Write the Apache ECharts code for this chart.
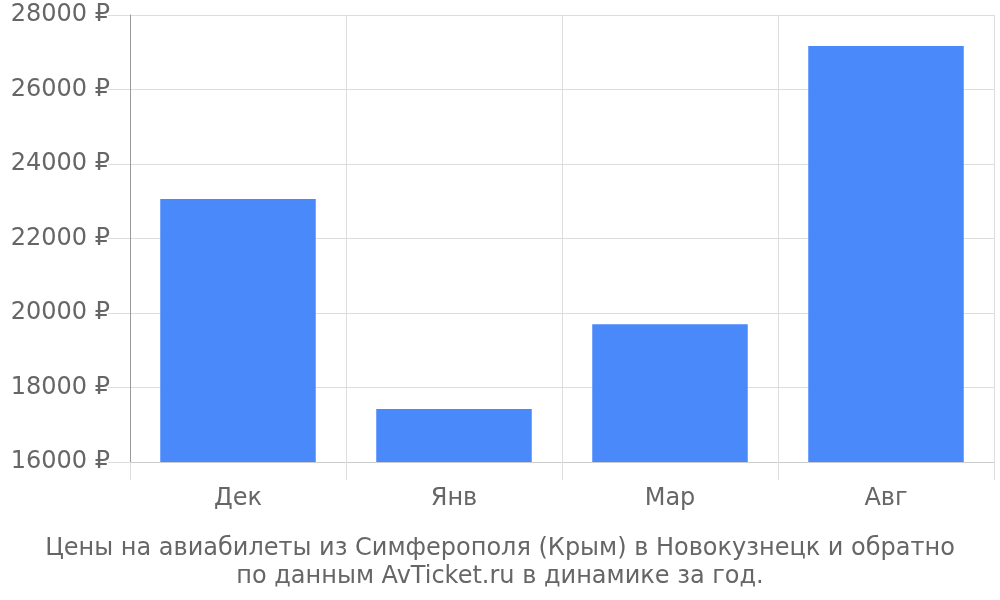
<!DOCTYPE html>
<html><head><meta charset="utf-8">
<script src="https://cdn.jsdelivr.net/npm/echarts@6/dist/echarts.min.js"></script>
<style>html,body{margin:0;padding:0;background:#fff}#c{width:1000px;height:600px}</style>
</head><body><div id="c"></div>
<script>
var categories = ['Дек', 'Янв', 'Мар', 'Авг'];
var prices = [23060, 17420, 19700, 27170];
var yTicks = [16000, 28000, 2000];
var titleText = 'Цены на авиабилеты из Симферополя (Крым) в Новокузнецк и обратно\nпо данным AvTicket.ru в динамике за год.';

var chart = echarts.init(document.getElementById('c'));
var font = 'DejaVu Sans';
chart.setOption({
  animation: false,
  title: {
    text: titleText, left: 'center', top: 530,
    textStyle: { fontFamily: font, fontSize: 24, fontWeight: 'normal', color: '#666', lineHeight: 28 }
  },
  grid: { left: 130, right: 6, top: 15, bottom: 138 },
  xAxis: {
    type: 'category', data: categories,
    axisLine: { show: true, lineStyle: { color: '#ccc' } },
    axisTick: { show: true, length: 18, lineStyle: { color: '#ddd' } },
    splitLine: { show: true, lineStyle: { color: '#ddd' } },
    axisLabel: { fontFamily: font, fontSize: 24, color: '#666', margin: 25 }
  },
  yAxis: {
    type: 'value', min: yTicks[0], max: yTicks[1], interval: yTicks[2],
    axisLine: { show: true, lineStyle: { color: '#999' } },
    axisTick: { show: true, length: 22, lineStyle: { color: '#ddd' } },
    splitLine: { show: true, lineStyle: { color: '#ddd' } },
    axisLabel: { fontFamily: font, fontSize: 24, color: '#666', margin: 20,
      formatter: function (v) { return v + ' ₽'; } }
  },
  series: [{
    type: 'bar', data: prices, barCategoryGap: '28%',
    itemStyle: { color: '#4a89fa' }
  }]
});
</script></body></html>
